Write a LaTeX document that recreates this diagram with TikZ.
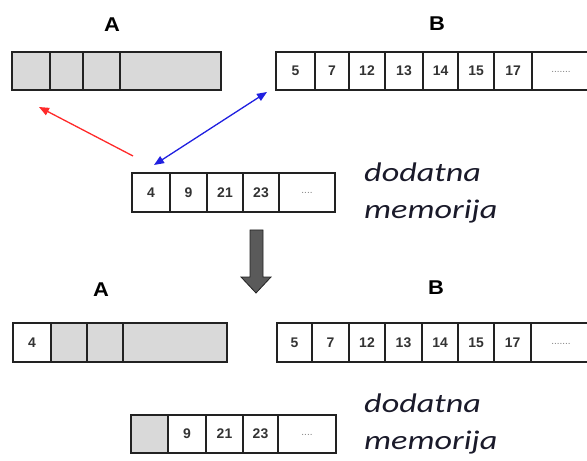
\documentclass[tikz,border=0pt]{standalone}
\usepackage{fontspec}
\setmainfont{Liberation Sans}
\newfontfamily\calfont{Carlito}
\usetikzlibrary{arrows.meta}
\definecolor{cellgray}{HTML}{D9D9D9}
\definecolor{numgray}{HTML}{333333}
\definecolor{linegray}{HTML}{222222}
\definecolor{arrred}{HTML}{FF2A2A}
\definecolor{arrblue}{HTML}{2020E0}
\definecolor{bigarrow}{HTML}{5A5A5A}
\definecolor{memcol}{HTML}{1A1A2A}
\tikzset{
  cell/.style={draw=linegray, line width=1.8bp, inner sep=0pt, font=\fontsize{14}{14}\selectfont\bfseries, text=numgray},
  dots/.style={font=\fontsize{10}{10}\selectfont, text=gray},
  lab/.style={font=\fontsize{20}{20}\selectfont\bfseries},
  memtext/.style={font=\calfont\itshape\fontsize{27}{27}\selectfont, anchor=base west, inner sep=0pt, text=memcol},
  thinarrow/.style={line width=1.3bp, -{Triangle[length=10bp,width=8bp]}},
}
\newcommand{\wide}[1]{\scalebox{1.27}[1]{#1}}
\begin{document}
\begin{tikzpicture}[x=1bp,y=-1bp]
\useasboundingbox (0,0) rectangle (587,461);
\clip (0,0) rectangle (587,461);
% labels
\node[lab] (la1) at (112,25) {\scalebox{1.1}[1]{A}};
\node[lab] (lb1) at (437,24) {\scalebox{1.1}[1]{B}};
\node[lab] (la2) at (101,290) {\scalebox{1.1}[1]{A}};
\node[lab] (lb2) at (436,288) {\scalebox{1.1}[1]{B}};
% top A
\foreach \a/\b/\t/\f [count=\i] in {12/50//cellgray,50/83//cellgray,83/120//cellgray,120/221//cellgray}
  \node[cell, fill=\f, minimum height=38bp, minimum width={(\b-\a)*1bp}] (ta\i) at ({(\a+\b)/2},71) {\t};
% top B
\foreach \a/\b/\t [count=\i] in {276/315/5,315/349/7,349/385/12,385/423/13,423/458/14,458/494/15,494/532/17}
  \node[cell, fill=white, minimum height=38bp, minimum width={(\b-\a)*1bp}] (tb\i) at ({(\a+\b)/2},71) {\t};
\node[cell, fill=white, minimum height=38bp, minimum width=57bp] (tb8) at (560.5,71) {};
\node[dots] at (561,72) {.......};
% top memory
\foreach \a/\b/\t [count=\i] in {132/170/4,170/207/9,207/243/21,243/279/23}
  \node[cell, fill=white, minimum height=39bp, minimum width={(\b-\a)*1bp}] (tm\i) at ({(\a+\b)/2},192.5) {\t};
\node[cell, fill=white, minimum height=39bp, minimum width=56bp] (tm5) at (307,192.5) {};
\node[dots] at (307,193) {....};
\node[memtext] (tt1) at (364,182) {\wide{dodatna}};
\node[memtext] (tt2) at (364,219) {\wide{memorija}};
% arrows
\coordinate (r1) at (133,156);
\coordinate (r2) at (39,107);
\coordinate (b1) at (154,165);
\coordinate (b2) at (267,92);
\draw[thinarrow, draw=arrred, fill=arrred] (r1) -- (r2);
\draw[line width=1.3bp, draw=arrblue, fill=arrblue, {Triangle[length=10bp,width=8bp]}-{Triangle[length=10bp,width=8bp]}] (b1) -- (b2);
% big down arrow
\draw[line width=0.8bp, draw=linegray, fill=bigarrow] (250,230) -- (263,230) -- (263,277) -- (271,277) -- (256,293) -- (241,277) -- (250,277) -- cycle;
% bottom A
\foreach \a/\b/\t/\f [count=\i] in {13/51/4/white,51/87//cellgray,87/123//cellgray,123/227//cellgray}
  \node[cell, fill=\f, minimum height=39bp, minimum width={(\b-\a)*1bp}] (ba\i) at ({(\a+\b)/2},342.5) {\t};
% bottom B
\foreach \a/\b/\t [count=\i] in {277/312/5,312/349/7,349/385/12,385/422/13,422/458/14,458/494/15,494/531/17}
  \node[cell, fill=white, minimum height=39bp, minimum width={(\b-\a)*1bp}] (bb\i) at ({(\a+\b)/2},342.5) {\t};
\node[cell, fill=white, minimum height=39bp, minimum width=58bp] (bb8) at (560,342.5) {};
\node[dots] at (561,344) {.......};
% bottom memory
\foreach \a/\b/\t/\f [count=\i] in {131/168//cellgray,168/206/9/white,206/243/21/white,243/278/23/white}
  \node[cell, fill=\f, minimum height=38bp, minimum width={(\b-\a)*1bp}] (bm\i) at ({(\a+\b)/2},434) {\t};
\node[cell, fill=white, minimum height=38bp, minimum width=58bp] (bm5) at (307,434) {};
\node[dots] at (307,435) {....};
\node[memtext] (bt1) at (364,412) {\wide{dodatna}};
\node[memtext] (bt2) at (364,449) {\wide{memorija}};
\end{tikzpicture}
\end{document}
